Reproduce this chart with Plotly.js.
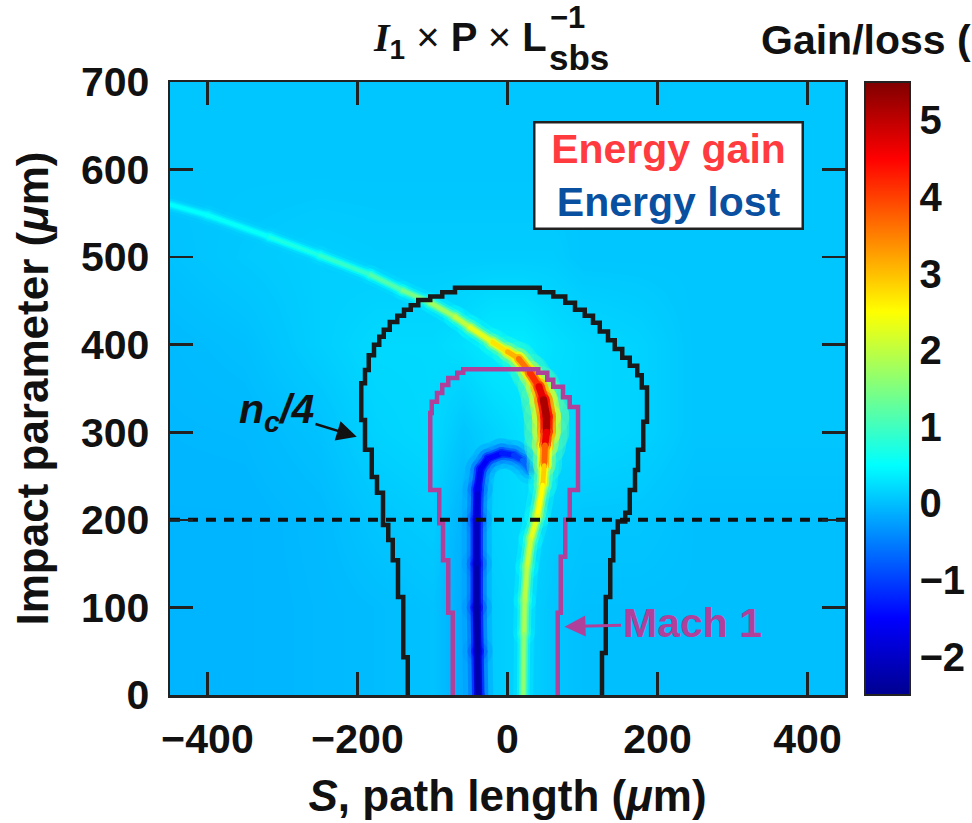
<!DOCTYPE html>
<html>
<head>
<meta charset="utf-8">
<script src="https://cdn.plot.ly/plotly-3.0.1.min.js"></script>
<style>html,body{margin:0;padding:0;background:#fff;}#chart{width:972px;height:823px;}</style>
</head>
<body>
<div id="chart"></div>
<script>
// ---------- data ----------
// colour scale limits (Gain/loss)
const cmin = -2.5, cmax = 5.5;
const cbarTicks = [-2, -1, 0, 1, 2, 3, 4, 5];
const xTicks = [-400, -200, 0, 200, 400];
const yTicks = [0, 100, 200, 300, 400, 500, 600, 700];

// coarse background field (S in um, impact parameter in um)
const bgS = [-450, -350, -250, -175, -100, -60, -20, 20, 60, 100, 175, 250, 350, 450];
const bgB = [0, 100, 200, 300, 400, 500, 600, 700];
const bgZ0   = [-0.08, -0.08, -0.05, -0.02, 0.02, -0.15, 0.1, 0.15, 0.05, 0.0, 0.0, 0.0, 0.0, 0.0];
const bgZ100 = [-0.08, -0.08, -0.05, -0.02, 0.02, -0.15, 0.1, 0.15, 0.05, 0.0, 0.0, 0.0, 0.0, 0.0];
const bgZ200 = [-0.08, -0.08, -0.04, 0.05, 0.1, -0.1, 0.15, 0.2, 0.1, 0.05, 0.05, 0.0, 0.0, 0.0];
const bgZ300 = [-0.06, -0.05, 0.02, 0.15, 0.2, 0.05, 0.15, 0.25, 0.2, 0.2, 0.15, 0.05, 0.05, 0.05];
const bgZ400 = [-0.04, 0.0, 0.12, 0.2, 0.2, 0.25, 0.35, 0.35, 0.25, 0.2, 0.15, 0.05, 0.05, 0.05];
const bgZ500 = [0.02, 0.08, 0.12, 0.1, 0.1, 0.1, 0.1, 0.1, 0.1, 0.05, 0.05, 0.05, 0.05, 0.05];
const bgZ600 = [0.05, 0.05, 0.05, 0.05, 0.05, 0.05, 0.05, 0.05, 0.05, 0.05, 0.05, 0.05, 0.05, 0.05];
const bgZ700 = [0.05, 0.05, 0.05, 0.05, 0.05, 0.05, 0.05, 0.05, 0.05, 0.05, 0.05, 0.05, 0.05, 0.05];

// energy-gain ridge (path S, impact parameter, gain value)
const gainS = [-450, -400, -317, -250, -183, -140, -103, -70, -50, -20, 0, 15, 30, 42, 48, 52, 52, 50, 49, 47, 40, 31, 26, 23, 22, 21];
const gainB = [560, 548, 523, 502, 480, 462, 448, 432, 420, 403, 392, 384, 368, 352, 337, 318, 300, 285, 262, 240, 205, 178, 146, 108, 70, 0];
const gainV = [0.5, 0.5, 0.6, 0.8, 1.0, 1.3, 1.6, 1.9, 2.1, 2.5, 2.9, 3.3, 3.9, 4.4, 5.0, 5.3, 5.0, 4.3, 3.2, 2.6, 2.4, 2.2, 2.0, 1.9, 1.8, 1.4];

// energy-lost ridge
const lostS = [-39, -40, -41, -41, -41, -40, -36, -26, -8, 8, 20, 30];
const lostB = [0, 50, 100, 150, 200, 235, 258, 270, 276, 274, 268, 258];
const lostV = [-2.2, -2.3, -2.3, -2.2, -2.0, -1.8, -1.6, -1.5, -1.4, -1.2, -0.9, -0.5];

// n_c/4 contour
const nc4S = [-133,-133,-139,-139,-146,-146,-153,-153,-159,-159,-166,-166,-174,-174,-181,-181,-190,-190,-195,-195,-190,-190,-185,-185,-178,-178,-171,-171,-165,-165,-157,-157,-147,-147,-138,-138,-129,-129,-119,-119,-103,-103,-87,-87,-70,-70,43,43,61,61,77,77,90,90,103,103,114,114,123,123,134,134,143,143,153,153,163,163,173,173,179,179,186,186,181,181,174,174,170,170,163,163,157,157,147,147,141,141,137,137,131,131,126,126];
const nc4B = [0,43,43,112,112,154,154,177,177,194,194,231,231,249,249,280,280,314,314,356,356,371,371,388,388,400,400,409,409,417,417,426,426,433,433,440,440,445,445,451,451,455,455,460,460,465,465,460,460,455,455,448,448,440,440,433,433,425,425,415,415,405,405,395,395,385,385,376,376,365,365,351,351,312,312,280,280,257,257,234,234,208,208,198,198,186,186,154,154,112,112,48,48,0];

// Mach 1 contour
const machS = [-73,-73,-79,-79,-86,-86,-91,-91,-103,-103,-101,-101,-94,-94,-87,-87,-79,-79,-67,-67,-59,-59,41,41,53,53,61,61,74,74,83,83,94,94,83,83,77,77,71,71,67,67];
const machB = [0,94,94,154,154,196,196,234,234,322,322,335,335,345,345,354,354,362,362,368,368,372,372,368,368,360,360,352,352,340,340,329,329,234,234,200,200,158,158,94,94,0];

// dashed reference line
const refLineS = [-450, 450];
const refLineB = [200, 200];

// ---------- helpers ----------
const jetStops = [[0,[0,0,143]],[0.125,[0,0,255]],[0.375,[0,255,255]],[0.625,[255,255,0]],[0.875,[255,0,0]],[1,[128,0,0]]];
const jetScale = jetStops.map(s => [s[0], 'rgb(' + s[1].join(',') + ')']);
function jet(v){
  const f = Math.min(1, Math.max(0, (v - cmin) / (cmax - cmin)));
  for (let i = 1; i < jetStops.length; i++){
    if (f <= jetStops[i][0]){
      const a = jetStops[i-1], b = jetStops[i];
      const t = (f - a[0]) / (b[0] - a[0]);
      return 'rgb(' + [0,1,2].map(j => Math.round(a[1][j] + t*(b[1][j]-a[1][j]))).join(',') + ')';
    }
  }
  return 'rgb(128,0,0)';
}

const FONT = 'Liberation Sans, Arial, Helvetica, sans-serif';
const traces = [];

traces.push({
  type: 'heatmap', x: bgS, y: bgB,
  z: [bgZ0, bgZ100, bgZ200, bgZ300, bgZ400, bgZ500, bgZ600, bgZ700],
  zmin: cmin, zmax: cmax, zsmooth: 'best', colorscale: jetScale,
  hoverinfo: 'skip',
  colorbar: {
    thickness: 45, thicknessmode: 'pixels', len: 1, lenmode: 'fraction',
    x: 1.0296, xanchor: 'left', xpad: 0, ypad: 0, y: 0.5, yanchor: 'middle',
    outlinewidth: 2, outlinecolor: '#222',
    tickvals: cbarTicks, ticks: '', ticklabelstandoff: 8,
    tickfont: {family: FONT, size: 40, color: '#111', weight: 'bold'}
  }
});

function ridge(S, B, V, widthOf, layers){
  layers.forEach(L => {
    for (let i = 0; i < S.length - 1; i++){
      const v = 0.5 * (V[i] + V[i+1]);
      const w = widthOf(v) * L.f;
      const col = jet(v * L.k);
      traces.push({
        type: 'scatter', mode: 'lines+markers', x: [S[i], S[i+1]], y: [B[i], B[i+1]],
        line: {color: col, width: w}, marker: {color: col, size: w},
        opacity: L.o, hoverinfo: 'skip', showlegend: false
      });
    }
  });
}

ridge(lostS, lostB, lostV, v => 5,
  [{k: 0.15, f: 6, o: 0.3}, {k: 0.35, f: 4, o: 0.45}, {k: 0.6, f: 2.5, o: 0.7}, {k: 0.85, f: 1.6, o: 0.9}, {k: 1, f: 1, o: 1}]);
ridge(gainS, gainB, gainV, v => 3.5 + 1.3 * Math.max(0, v - 1.5),
  [{k: 0.25, f: 5.5, o: 0.35}, {k: 0.45, f: 3.5, o: 0.5}, {k: 0.65, f: 2.3, o: 0.75}, {k: 0.85, f: 1.5, o: 0.9}, {k: 1, f: 0.9, o: 1}]);

traces.push({type: 'scatter', mode: 'lines', x: nc4S, y: nc4B,
  line: {color: '#1a1a1a', width: 4.5}, hoverinfo: 'skip', showlegend: false});
traces.push({type: 'scatter', mode: 'lines', x: machS, y: machB,
  line: {color: '#B0419B', width: 4.5}, hoverinfo: 'skip', showlegend: false});
traces.push({type: 'scatter', mode: 'lines', x: refLineS, y: refLineB,
  line: {color: '#111', width: 4, dash: '10px,8px'}, hoverinfo: 'skip', showlegend: false});

const tf = {family: FONT, size: 41, color: '#111', weight: 'bold'};
const titleFont = {family: FONT, size: 44, color: '#111', weight: 'bold'};

const layout = {
  width: 972, height: 823,
  margin: {l: 170, r: 127, t: 82, b: 128, pad: 0},
  paper_bgcolor: '#fff', plot_bgcolor: '#00BFFF',
  showlegend: false,
  xaxis: {
    range: [-450, 450], tickvals: xTicks, ticks: 'inside', ticklen: 23, tickwidth: 2.5, tickcolor: '#222',
    mirror: 'ticks', showline: true, linewidth: 2.5, linecolor: '#222', showgrid: false, zeroline: false,
    ticklabelstandoff: 6, tickfont: tf,
    title: {text: '<i>S</i>, path length (<i>μ</i>m)', font: titleFont, standoff: 20}
  },
  yaxis: {
    range: [0, 700], tickvals: yTicks, ticks: 'inside', ticklen: 23, tickwidth: 2.5, tickcolor: '#222',
    mirror: 'ticks', showline: true, linewidth: 2.5, linecolor: '#222', showgrid: false, zeroline: false,
    ticklabelstandoff: 10, tickfont: tf
  },
  annotations: [
    {xref: 'paper', yref: 'paper', x: -0.2044, y: 0.5, xanchor: 'center', yanchor: 'middle', showarrow: false,
     textangle: -90, text: 'Impact parameter (<i>μ</i>m)', font: titleFont},
    {xref: 'paper', yref: 'paper', x: 0.5615, y: 1.068, xanchor: 'right', yanchor: 'middle', showarrow: false,
     text: '<i style="font-family:Liberation Serif">I</i><sub>1</sub> <span style="font-weight:normal">×</span> P <span style="font-weight:normal">×</span> L',
     font: {family: FONT, size: 40, color: '#111', weight: 'bold'}},
    {xref: 'paper', yref: 'paper', x: 0.5600, y: 1.106, xanchor: 'left', yanchor: 'middle', showarrow: false,
     text: '−1', font: {family: FONT, size: 31, color: '#111', weight: 'bold'}},
    {xref: 'paper', yref: 'paper', x: 0.5585, y: 1.040, xanchor: 'left', yanchor: 'middle', showarrow: false,
     text: 'sbs', font: {family: FONT, size: 35, color: '#111', weight: 'bold'}},
    {xref: 'paper', yref: 'paper', x: 0.8725, y: 1.068, xanchor: 'left', yanchor: 'middle', showarrow: false,
     text: 'Gain/loss (', font: tf},
    {xref: 'paper', yref: 'paper', x: 0.5378, y: 0.9364, xanchor: 'left', yanchor: 'top', showarrow: false,
     width: 262, height: 100, borderpad: 2, borderwidth: 2.5, bordercolor: '#222', bgcolor: '#fff', align: 'center',
     text: '<span style="color:#FF3B40">Energy gain</span><br><span style="color:#0A50A0">Energy lost</span>',
     font: {family: FONT, size: 41, color: '#111', weight: 'bold'}},
    {xref: 'x', yref: 'y', axref: 'x', ayref: 'y', x: -201, y: 295, ax: -308, ay: 323,
     text: '<i>n<sub>c</sub>/4</i>', font: tf,
     showarrow: true, arrowhead: 2, arrowsize: 1.6, arrowwidth: 2.5, arrowcolor: '#111', standoff: 0},
    {xref: 'x', yref: 'y', axref: 'x', ayref: 'y', x: 76, y: 78, ax: 246, ay: 82,
     text: 'Mach 1', font: {family: FONT, size: 41, color: '#B0419B', weight: 'bold'},
     showarrow: true, arrowhead: 2, arrowsize: 1.4, arrowwidth: 3, arrowcolor: '#B0419B', standoff: 0}
  ]
};

Plotly.newPlot('chart', traces, layout, {displayModeBar: false, staticPlot: true});
</script>
</body>
</html>
